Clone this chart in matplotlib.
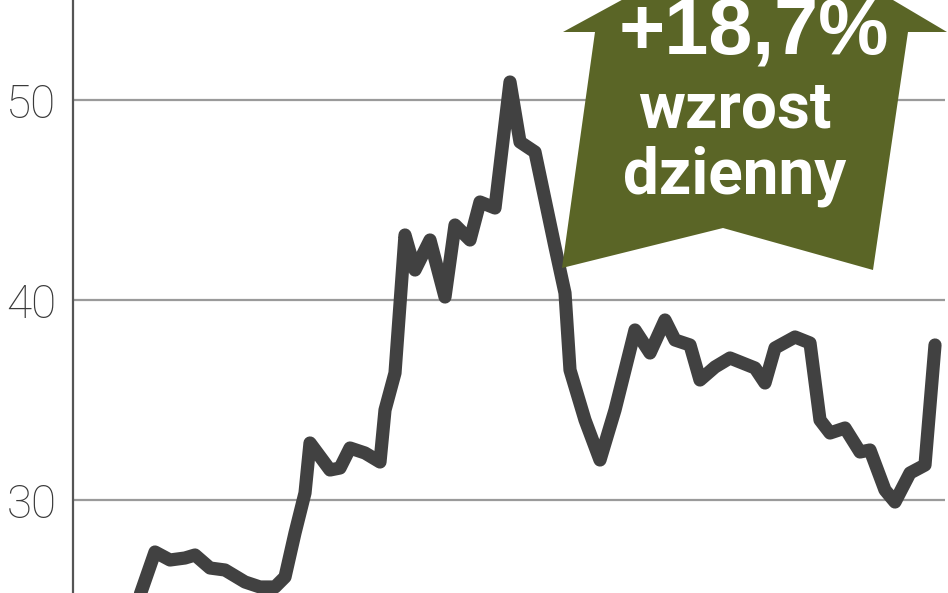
import numpy as np
import matplotlib.pyplot as plt
from matplotlib.patches import Polygon

# Session number and closing price
day = [0, 5, 9, 13, 16, 19, 22, 24, 27, 30, 34, 37, 40, 42, 44, 46, 47,
       51, 53, 55, 58, 61, 62, 64, 66, 68, 71, 74, 76, 79, 81, 84, 87, 89,
       92, 96, 98, 99, 102, 105, 108, 112, 115, 118, 120, 123, 125, 128,
       131, 136, 138, 140, 144, 147, 149, 151, 154, 157, 159, 162, 164,
       167, 170, 172]
price = [25.3, 25.15, 25.15, 25.25, 27.4, 27.0, 27.1, 27.25, 26.6, 26.5,
         25.9, 25.65, 25.65, 26.15, 28.35, 30.35, 32.85, 31.5, 31.6, 32.6,
         32.35, 31.9, 34.5, 36.35, 43.25, 41.5, 43.0, 40.15, 43.75, 43.0,
         44.9, 44.6, 50.9, 47.9, 47.4, 42.65, 40.35, 36.5, 34.0, 32.0, 34.5,
         38.5, 37.35, 39.0, 38.0, 37.75, 36.0, 36.65, 37.1, 36.6, 35.85,
         37.6, 38.15, 37.85, 34.0, 33.35, 33.6, 32.4, 32.5, 30.5, 29.9,
         31.35, 31.75, 37.75]
yticks = [30, 40, 50]
change_label = "+18,7%"
caption = ["wzrost", "dzienny"]

W, H = 948, 593
fig = plt.figure(figsize=(W / 100, H / 100), dpi=100)
ax = fig.add_axes([73 / W, 0, (945 - 73) / W, 1])

ax.set_xlim(-0.4, 174)
ax.set_ylim(25.35, 55)

for v in yticks:
    ax.axhline(v, color="#9a9a9a", lw=1.6, zorder=1)

ax.plot(day, price, color="#414141", lw=9.5, solid_joinstyle="round",
        solid_capstyle="round", zorder=3)

for s in ["top", "right", "bottom"]:
    ax.spines[s].set_visible(False)
ax.spines["left"].set_color("#555555")
ax.spines["left"].set_linewidth(1.6)
ax.set_xticks([])
ax.set_yticks(yticks)
ax.set_yticklabels([str(v) for v in yticks], fontsize=33, color="#3a3a3a",
                   family="Roboto", fontweight="light")
ax.tick_params(axis="y", length=0, pad=12)


# arrow badge, in pixel coords of the figure
def px(x, y):
    return ((x - 73) / (945 - 73), 1 - y / H)


arrow_pts = [(563, 32), (595, 32), (562, 268), (723, 228), (873, 270),
             (908, 32), (947, 32), (763, -77)]
badge = Polygon([px(x, y) for x, y in arrow_pts], closed=True,
                transform=ax.transAxes, facecolor="#5a6526",
                edgecolor="none", clip_on=False, zorder=5)
ax.add_patch(badge)

ax.text(*px(754, 53), change_label, transform=ax.transAxes, ha="center",
        va="baseline", fontsize=57, fontweight="bold", color="white",
        family=["Liberation Sans", "DejaVu Sans"], zorder=6)
ax.text(*px(735, 127), caption[0], transform=ax.transAxes, ha="center",
        va="baseline", fontsize=46, fontweight="bold", color="white",
        family=["Roboto", "DejaVu Sans"], zorder=6)
ax.text(*px(735, 193), caption[1], transform=ax.transAxes, ha="center",
        va="baseline", fontsize=46, fontweight="bold", color="white",
        family=["Roboto", "DejaVu Sans"], zorder=6)

fig.savefig("out.png", dpi=100)
